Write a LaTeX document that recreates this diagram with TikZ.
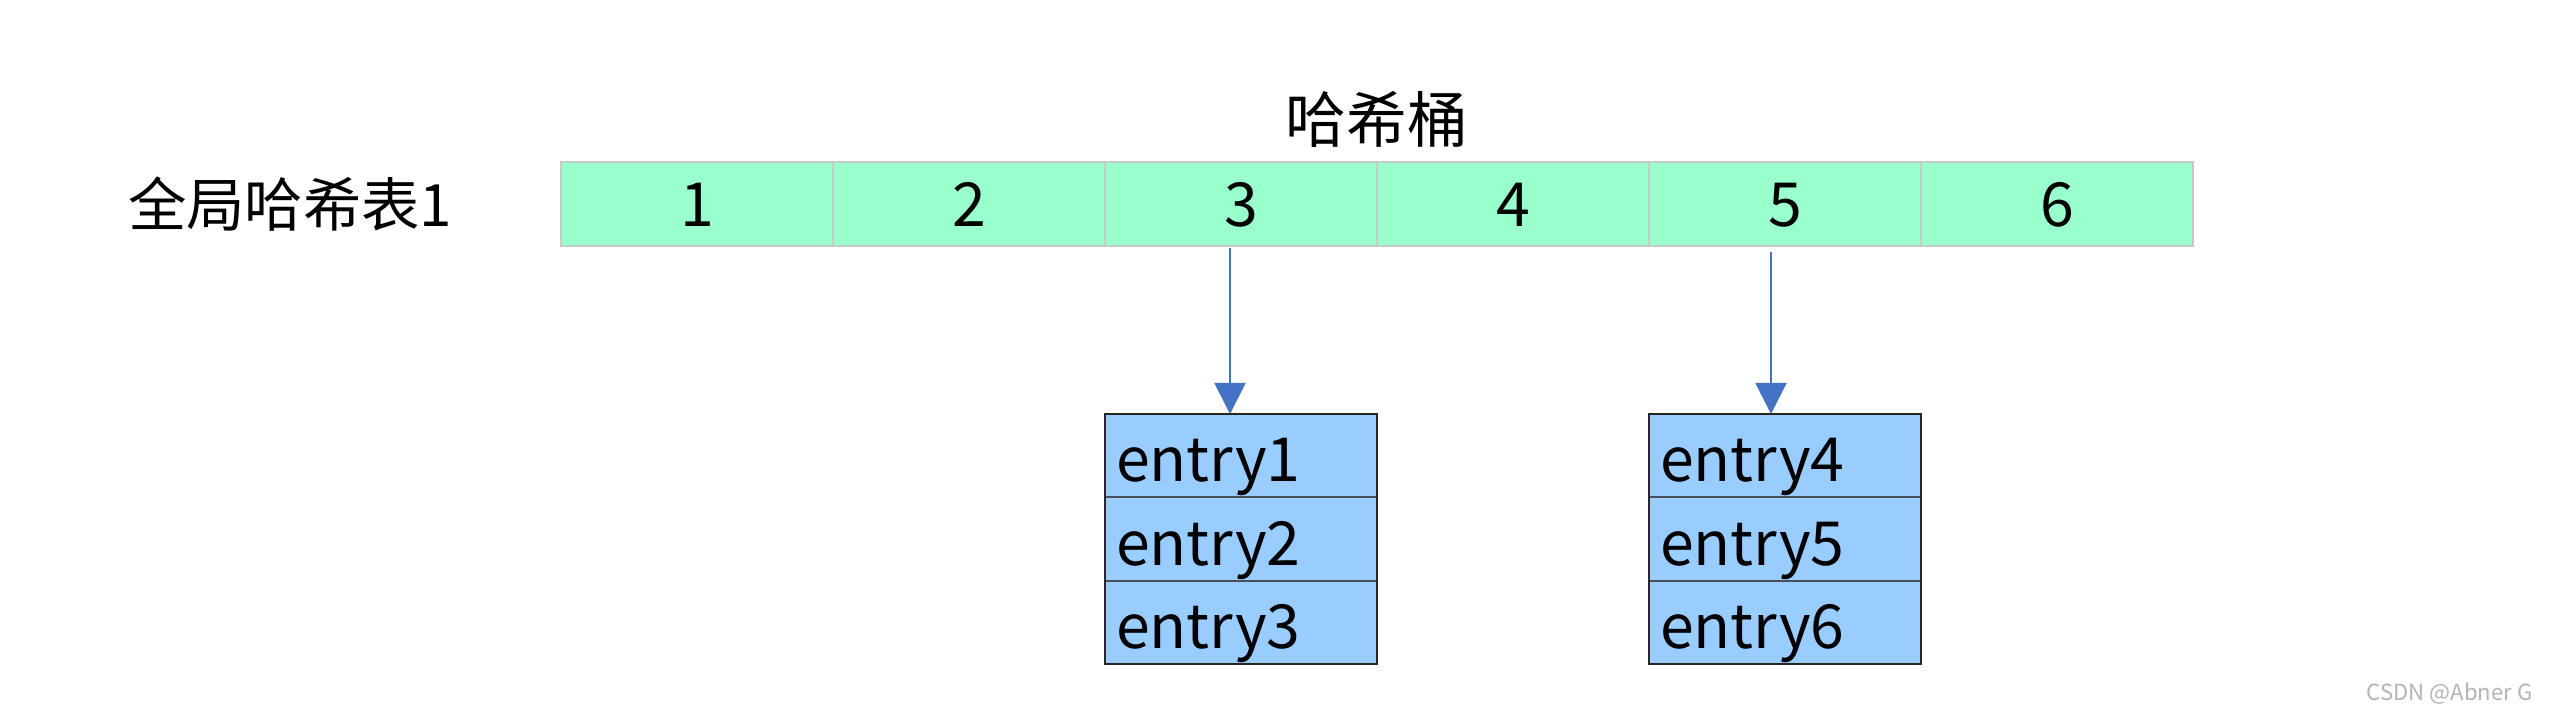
\documentclass[tikz,border=0pt]{standalone}
\usepackage{fontspec}
\setmainfont{Noto Sans CJK SC}
\usetikzlibrary{positioning, arrows.meta}

\definecolor{bucketgreen}{HTML}{99FFCC}
\definecolor{cellgray}{HTML}{C8C8C8}
\definecolor{entryblue}{HTML}{99CCFF}
\definecolor{entryline}{HTML}{46505A}
\definecolor{boxline}{HTML}{262626}
\definecolor{linkblue}{HTML}{4472C4}
\definecolor{markgray}{HTML}{B4B4B4}

\tikzset{
  big/.style={font=\fontsize{17.3}{20}\selectfont, text height=12.7pt, text depth=0pt},
  bucket/.style={big, draw=cellgray, line width=0.2mm, fill=bucketgreen, outer sep=0pt,
    minimum width=27.2mm, minimum height=8.4mm, inner sep=0pt},
  entry/.style={big, text height=14.7pt, draw=entryline, line width=0.2mm, fill=entryblue, outer sep=0pt,
    minimum height=8.35mm, inner xsep=1.1mm, inner ysep=0pt, text width=25mm, align=left},
  link/.style={draw=linkblue, line width=0.2mm, -{Triangle[width=3.1mm, length=3.1mm]}},
}

\begin{document}
\begin{tikzpicture}
  \fill[white] (0,0) rectangle (256mm,-72mm);
  \useasboundingbox (0,0) rectangle (256mm,-72mm);

  \foreach \i in {1,...,6}
    \node[bucket] (b\i) at ({(69.7+(\i-1)*27.2)*1mm}, -20.4mm) {\i};

  \node[big, inner sep=0pt, font=\fontsize{16.6}{20}\selectfont, left=10.8mm of b1] (tablename) {全局哈希表1};
  \node[big, inner sep=0pt] (title) at ([yshift=4.2mm]b3.north east) {哈希桶};

  \node[entry, below=16.8mm of b3] (e1) {entry1};
  \node[entry, below=0pt of e1] (e2) {entry2};
  \node[entry, below=0pt of e2] (e3) {entry3};
  \draw[boxline, line width=0.2mm] (e1.north west) rectangle (e3.south east);

  \node[entry, below=16.8mm of b5] (e4) {entry4};
  \node[entry, below=0pt of e4] (e5) {entry5};
  \node[entry, below=0pt of e5] (e6) {entry6};
  \draw[boxline, line width=0.2mm] (e4.north west) rectangle (e6.south east);

  \draw[link] ([xshift=-1.1mm, yshift=-0.2mm]b3.south) -- ([xshift=-1.1mm]e1.north);
  \draw[link] ([xshift=-1.4mm, yshift=-0.6mm]b5.south) -- ([xshift=-1.4mm]e4.north);

  \node[font=\fontsize{6.3}{7}\selectfont, text=markgray, anchor=east, inner sep=0pt]
    (mark) at (253.3mm,-69.4mm) {CSDN @Abner G};
\end{tikzpicture}
\end{document}
